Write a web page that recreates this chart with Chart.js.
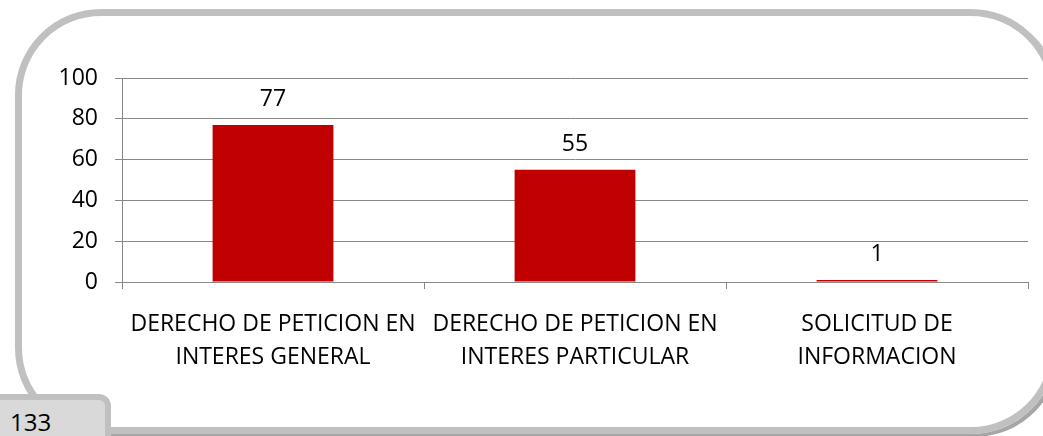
<!DOCTYPE html>
<html>
<head>
<meta charset="utf-8">
<script src="https://cdn.jsdelivr.net/npm/chart.js@4"></script>
<style>
  html, body { margin: 0; padding: 0; background: #fff; }
  body { width: 1043px; height: 436px; position: relative; overflow: hidden; font-family: "Open Sans", sans-serif; }
  /* rounded grey frame round the chart */
  #frame {
    position: absolute; left: 15px; top: 9px; width: 1042px; height: 425px;
    box-sizing: border-box; border: 7px solid #c0c0c0; border-radius: 86px;
    box-shadow: 3px 3px 0 #a6a6a6;
  }
  #chartBox { position: absolute; left: 0; top: 0; width: 1043px; height: 436px; }
  /* little tab bottom-left with the total */
  #total {
    position: absolute; left: -6px; top: 394px; width: 117px; height: 52px;
    box-sizing: border-box; background: #d9d9d9; border: 6px solid #c0c0c0;
    border-radius: 0 12px 0 0; font-size: 24px; color: #000;
    padding: 8px 0 0 10px; line-height: 28px;
  }
</style>
</head>
<body>
<div id="frame"></div>
<div id="chartBox"><canvas id="myChart" width="1043" height="436"></canvas></div>
<div id="total">133</div>
<script>
// data
const categories = [
  ['DERECHO DE PETICION EN', 'INTERES GENERAL'],
  ['DERECHO DE PETICION EN', 'INTERES PARTICULAR'],
  ['SOLICITUD DE', 'INFORMACION']
];
const values = [77, 55, 1];
const yTicks = [0, 20, 40, 60, 80, 100];

const gridColor = '#888888';
const barColor = '#c00000';
const fontFamily = '"Open Sans", sans-serif';

// numbers on top of the bars (no datalabels plugin here)
const valueLabels = {
  id: 'valueLabels',
  afterDatasetsDraw(chart) {
    const ctx = chart.ctx;
    const meta = chart.getDatasetMeta(0);
    ctx.save();
    ctx.font = '23px ' + fontFamily;
    ctx.fillStyle = '#000';
    ctx.textAlign = 'center';
    ctx.textBaseline = 'alphabetic';
    meta.data.forEach((bar, i) => {
      ctx.fillText(String(values[i]), bar.x, bar.y - 19);
    });
    ctx.restore();
  }
};

const myChart = new Chart(document.getElementById('myChart'), {
  type: 'bar',
  data: {
    labels: categories,
    datasets: [{
      data: values,
      backgroundColor: barColor,
      borderWidth: 0,
      categoryPercentage: 1,
      barPercentage: 0.4
    }]
  },
  options: {
    responsive: false,
    animation: false,
    devicePixelRatio: 1,
    layout: { padding: { left: 0, right: 15, top: 78, bottom: 0 } },
    plugins: { legend: { display: false }, tooltip: { enabled: false } },
    scales: {
      x: {
        grid: { drawOnChartArea: false, drawTicks: true, tickLength: 7, color: gridColor, offset: true },
        border: { color: gridColor },
        ticks: {
          color: '#000', font: { family: fontFamily, size: 23, lineHeight: 1.42 },
          maxRotation: 0, autoSkip: false, padding: 19
        },
        afterFit(scale) { scale.height = 436 - 282; }
      },
      y: {
        min: 0, max: 100,
        afterBuildTicks(scale) { scale.ticks = yTicks.map(v => ({ value: v })); },
        grid: { color: gridColor, tickLength: 7 },
        border: { color: gridColor },
        ticks: { color: '#000', font: { family: fontFamily, size: 23 }, padding: 17 },
        afterFit(scale) { scale.width = 122; }
      }
    }
  },
  plugins: [valueLabels]
});
console.log(myChart.chartArea);
</script>
</body>
</html>
